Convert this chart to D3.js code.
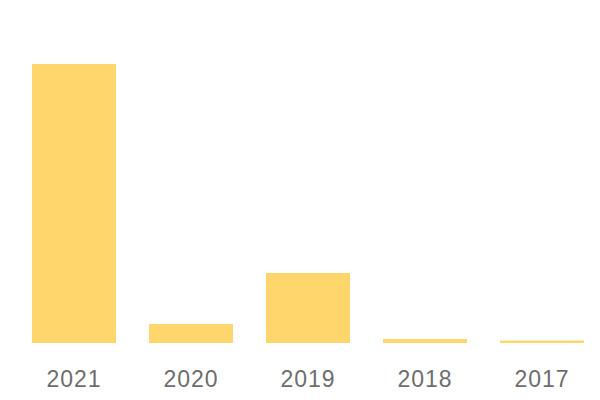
<!DOCTYPE html>
<html>
<head>
<meta charset="utf-8">
<script src="https://cdn.jsdelivr.net/npm/d3@7"></script>
<style>
  html, body { margin: 0; padding: 0; background: #fff; }
</style>
</head>
<body>
<div id="chart"></div>
<script>
var years = ["2021", "2020", "2019", "2018", "2017"];
var counts = [1120, 76, 281, 16, 10];

var width = 600, height = 400;
var svg = d3.select("#chart").append("svg")
    .attr("width", width)
    .attr("height", height);

var data = years.map(function(y, i){ return {year: y, value: counts[i]}; });

var x = d3.scaleBand()
    .domain(years)
    .range([32, 584])
    .paddingInner(0.282)
    .paddingOuter(0);

var y = d3.scaleLinear()
    .domain([0, d3.max(counts)])
    .range([343, 64]);

svg.append("g")
   .selectAll("rect")
   .data(data)
   .enter().append("rect")
   .attr("x", function(d){ return x(d.year); })
   .attr("y", function(d){ return y(d.value); })
   .attr("width", x.bandwidth())
   .attr("height", function(d){ return y(0) - y(d.value); })
   .attr("fill", "#ffd66b");

var axis = svg.append("g")
   .attr("transform", "translate(0,343)")
   .call(d3.axisBottom(x).tickSize(0).tickPadding(0));
axis.select(".domain").remove();
axis.selectAll("text")
   .attr("y", 44)
   .attr("dy", 0)
   .style("font-family", "'Liberation Sans', Arial, sans-serif")
   .style("font-size", "23px")
   .style("letter-spacing", "1px")
   .attr("fill", "#6e6e6e");
</script>
</body>
</html>
